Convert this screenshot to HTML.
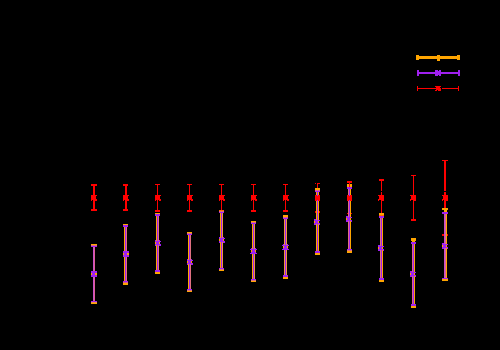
<!DOCTYPE html>
<html><head><meta charset="utf-8"><title>plot</title>
<style>
html,body{margin:0;padding:0;background:#000;font-family:"Liberation Sans",sans-serif;}
svg{display:block;position:absolute;left:0;top:0;}
</style></head><body>
<svg width="500" height="350" viewBox="0 0 500 350" shape-rendering="crispEdges">
<rect x="0" y="0" width="500" height="350" fill="#000"/>
<rect x="93" y="184" width="1" height="27" fill="#ff0000"/><rect x="94" y="184" width="1" height="27" fill="#ff0000"/><rect x="91" y="184" width="6" height="1" fill="#ff0000"/><rect x="91" y="185" width="6" height="1" fill="#ff0000"/><rect x="91" y="209" width="6" height="1" fill="#ff0000"/><rect x="91" y="210" width="6" height="1" fill="#ff0000"/><rect x="125" y="184" width="1" height="27" fill="#ff0000"/><rect x="126" y="184" width="1" height="27" fill="#ff0000"/><rect x="123" y="184" width="5" height="1" fill="#ff0000"/><rect x="123" y="185" width="5" height="1" fill="#ff0000"/><rect x="123" y="209" width="5" height="1" fill="#ff0000"/><rect x="123" y="210" width="5" height="1" fill="#ff0000"/><rect x="157" y="184" width="1" height="28" fill="#ff0000"/><rect x="155" y="184" width="5" height="1" fill="#ff0000"/><rect x="155" y="210" width="5" height="1" fill="#ff0000"/><rect x="155" y="211" width="5" height="1" fill="#ff0000"/><rect x="189" y="184" width="1" height="28" fill="#ff0000"/><rect x="187" y="184" width="5" height="1" fill="#ff0000"/><rect x="187" y="210" width="5" height="1" fill="#ff0000"/><rect x="187" y="211" width="5" height="1" fill="#ff0000"/><rect x="221" y="184" width="1" height="28" fill="#ff0000"/><rect x="219" y="184" width="5" height="1" fill="#ff0000"/><rect x="219" y="210" width="5" height="1" fill="#ff0000"/><rect x="219" y="211" width="5" height="1" fill="#ff0000"/><rect x="253" y="184" width="1" height="28" fill="#ff0000"/><rect x="251" y="184" width="5" height="1" fill="#ff0000"/><rect x="251" y="210" width="5" height="1" fill="#ff0000"/><rect x="251" y="211" width="5" height="1" fill="#ff0000"/><rect x="285" y="184" width="1" height="28" fill="#ff0000"/><rect x="283" y="184" width="5" height="1" fill="#ff0000"/><rect x="283" y="210" width="5" height="1" fill="#ff0000"/><rect x="283" y="211" width="5" height="1" fill="#ff0000"/><rect x="317" y="183" width="1" height="30" fill="#ff0000"/><rect x="315" y="183" width="5" height="1" fill="#ff0000"/><rect x="315" y="211" width="5" height="1" fill="#ff0000"/><rect x="315" y="212" width="5" height="1" fill="#ff0000"/><rect x="349" y="181" width="1" height="33" fill="#ff0000"/><rect x="347" y="181" width="5" height="1" fill="#ff0000"/><rect x="347" y="182" width="5" height="1" fill="#ff0000"/><rect x="347" y="213" width="5" height="1" fill="#ff0000"/><rect x="381" y="179" width="1" height="37" fill="#ff0000"/><rect x="379" y="179" width="5" height="1" fill="#ff0000"/><rect x="379" y="180" width="5" height="1" fill="#ff0000"/><rect x="379" y="215" width="5" height="1" fill="#ff0000"/><rect x="413" y="175" width="1" height="46" fill="#ff0000"/><rect x="411" y="175" width="5" height="1" fill="#ff0000"/><rect x="411" y="219" width="5" height="1" fill="#ff0000"/><rect x="411" y="220" width="5" height="1" fill="#ff0000"/><rect x="444" y="160" width="1" height="76" fill="#ff0000"/><rect x="445" y="160" width="1" height="76" fill="#ff0000"/><rect x="442" y="160" width="6" height="1" fill="#ff0000"/><rect x="442" y="234" width="6" height="1" fill="#ff0000"/><rect x="442" y="235" width="6" height="1" fill="#ff0000"/><rect x="93" y="244" width="1" height="60" fill="#c850c8"/><rect x="94" y="244" width="1" height="60" fill="#dc5f96"/><rect x="91" y="244" width="6" height="1" fill="#ffa500"/><rect x="91" y="245" width="6" height="1" fill="#e07080"/><rect x="91" y="246" width="6" height="1" fill="#a020f0"/><rect x="91" y="301" width="6" height="1" fill="#a020f0"/><rect x="91" y="302" width="6" height="1" fill="#f09640"/><rect x="91" y="303" width="6" height="1" fill="#ffa500"/><rect x="91" y="273" width="6" height="2" fill="#ffa500"/><rect x="91" y="271" width="6" height="2" fill="#a020f0"/><rect x="91" y="275" width="6" height="2" fill="#a020f0"/><rect x="92" y="273" width="3" height="2" fill="#a020f0"/><rect x="124" y="224" width="1" height="61" fill="#ffa500"/><rect x="125" y="224" width="1" height="61" fill="#a020f0"/><rect x="126" y="224" width="1" height="61" fill="#e07080"/><rect x="123" y="224" width="5" height="1" fill="#ffa500"/><rect x="123" y="225" width="5" height="1" fill="#a020f0"/><rect x="123" y="226" width="5" height="1" fill="#a020f0"/><rect x="123" y="281" width="5" height="1" fill="#a020f0"/><rect x="123" y="282" width="5" height="1" fill="#dc5f96"/><rect x="123" y="283" width="5" height="1" fill="#ffa500"/><rect x="123" y="284" width="5" height="1" fill="#ffa500"/><rect x="123" y="253" width="6" height="2" fill="#ffa500"/><rect x="123" y="251" width="6" height="2" fill="#a020f0"/><rect x="123" y="255" width="6" height="2" fill="#a020f0"/><rect x="124" y="253" width="3" height="2" fill="#a020f0"/><rect x="156" y="213" width="1" height="61" fill="#ffa500"/><rect x="157" y="213" width="1" height="61" fill="#a020f0"/><rect x="158" y="213" width="1" height="61" fill="#e07080"/><rect x="155" y="213" width="5" height="1" fill="#ffa500"/><rect x="155" y="214" width="5" height="1" fill="#a020f0"/><rect x="155" y="215" width="5" height="1" fill="#a020f0"/><rect x="155" y="270" width="5" height="1" fill="#a020f0"/><rect x="155" y="271" width="5" height="1" fill="#a020f0"/><rect x="155" y="272" width="5" height="1" fill="#ffa500"/><rect x="155" y="273" width="5" height="1" fill="#ffa500"/><rect x="155" y="242" width="5" height="2" fill="#ffa500"/><rect x="155" y="240" width="5" height="1" fill="#a020f0"/><rect x="155" y="241" width="6" height="1" fill="#a020f0"/><rect x="155" y="244" width="6" height="1" fill="#a020f0"/><rect x="155" y="245" width="6" height="1" fill="#a020f0"/><rect x="156" y="242" width="3" height="2" fill="#a020f0"/><rect x="156" y="240" width="1" height="1" fill="#ffa500"/><rect x="156" y="245" width="1" height="1" fill="#ffa500"/><rect x="158" y="240" width="1" height="1" fill="#e07080"/><rect x="158" y="245" width="1" height="1" fill="#e07080"/><rect x="188" y="232" width="1" height="60" fill="#ffa500"/><rect x="189" y="232" width="1" height="60" fill="#a020f0"/><rect x="190" y="232" width="1" height="60" fill="#e07080"/><rect x="187" y="232" width="5" height="1" fill="#ffa500"/><rect x="187" y="233" width="5" height="1" fill="#e07080"/><rect x="187" y="234" width="5" height="1" fill="#a020f0"/><rect x="187" y="289" width="5" height="1" fill="#a020f0"/><rect x="187" y="290" width="5" height="1" fill="#e07080"/><rect x="187" y="291" width="5" height="1" fill="#ffa500"/><rect x="187" y="261" width="5" height="2" fill="#ffa500"/><rect x="187" y="259" width="5" height="1" fill="#a020f0"/><rect x="187" y="260" width="6" height="1" fill="#a020f0"/><rect x="187" y="263" width="6" height="1" fill="#a020f0"/><rect x="187" y="264" width="6" height="1" fill="#a020f0"/><rect x="188" y="261" width="3" height="2" fill="#a020f0"/><rect x="188" y="259" width="1" height="1" fill="#ffa500"/><rect x="188" y="264" width="1" height="1" fill="#ffa500"/><rect x="190" y="259" width="1" height="1" fill="#e07080"/><rect x="190" y="264" width="1" height="1" fill="#e07080"/><rect x="220" y="210" width="1" height="61" fill="#ffa500"/><rect x="221" y="210" width="1" height="61" fill="#a020f0"/><rect x="222" y="210" width="1" height="61" fill="#f09640"/><rect x="219" y="210" width="5" height="1" fill="#ff6a00"/><rect x="219" y="211" width="5" height="1" fill="#e07080"/><rect x="219" y="212" width="5" height="1" fill="#a020f0"/><rect x="219" y="268" width="5" height="1" fill="#a020f0"/><rect x="219" y="269" width="5" height="1" fill="#e07080"/><rect x="219" y="270" width="5" height="1" fill="#ffa500"/><rect x="219" y="239" width="5" height="2" fill="#ffa500"/><rect x="219" y="237" width="5" height="1" fill="#a020f0"/><rect x="219" y="238" width="6" height="1" fill="#a020f0"/><rect x="219" y="241" width="6" height="1" fill="#a020f0"/><rect x="219" y="242" width="6" height="1" fill="#a020f0"/><rect x="220" y="239" width="3" height="2" fill="#a020f0"/><rect x="220" y="237" width="1" height="1" fill="#ffa500"/><rect x="220" y="242" width="1" height="1" fill="#ffa500"/><rect x="222" y="237" width="1" height="1" fill="#f09640"/><rect x="222" y="242" width="1" height="1" fill="#f09640"/><rect x="252" y="221" width="1" height="61" fill="#ffa500"/><rect x="253" y="221" width="1" height="61" fill="#a020f0"/><rect x="254" y="221" width="1" height="61" fill="#f09640"/><rect x="251" y="221" width="5" height="1" fill="#ffa500"/><rect x="251" y="222" width="5" height="1" fill="#e07080"/><rect x="251" y="223" width="5" height="1" fill="#a020f0"/><rect x="251" y="279" width="5" height="1" fill="#a020f0"/><rect x="251" y="280" width="5" height="1" fill="#e07080"/><rect x="251" y="281" width="5" height="1" fill="#ffa500"/><rect x="251" y="250" width="5" height="2" fill="#ffa500"/><rect x="251" y="248" width="1" height="1" fill="#a020f0"/><rect x="255" y="248" width="1" height="1" fill="#a020f0"/><rect x="250" y="249" width="7" height="1" fill="#a020f0"/><rect x="250" y="253" width="7" height="1" fill="#a020f0"/><rect x="252" y="250" width="3" height="2" fill="#a020f0"/><rect x="251" y="252" width="5" height="1" fill="#a020f0"/><rect x="253" y="248" width="1" height="1" fill="#a020f0"/><rect x="284" y="215" width="1" height="64" fill="#f09640"/><rect x="285" y="215" width="1" height="64" fill="#a020f0"/><rect x="286" y="215" width="1" height="64" fill="#f09640"/><rect x="283" y="215" width="5" height="1" fill="#ffa500"/><rect x="283" y="216" width="5" height="1" fill="#ffa500"/><rect x="283" y="217" width="5" height="1" fill="#dc5f96"/><rect x="283" y="218" width="5" height="1" fill="#a020f0"/><rect x="283" y="275" width="5" height="1" fill="#a020f0"/><rect x="283" y="276" width="5" height="1" fill="#a020f0"/><rect x="283" y="277" width="5" height="1" fill="#ffa500"/><rect x="283" y="278" width="5" height="1" fill="#ffa500"/><rect x="283" y="246" width="5" height="2" fill="#ffa500"/><rect x="283" y="244" width="1" height="1" fill="#a020f0"/><rect x="287" y="244" width="1" height="1" fill="#a020f0"/><rect x="282" y="245" width="7" height="1" fill="#a020f0"/><rect x="282" y="249" width="7" height="1" fill="#a020f0"/><rect x="284" y="246" width="3" height="2" fill="#a020f0"/><rect x="283" y="248" width="5" height="1" fill="#a020f0"/><rect x="285" y="244" width="1" height="1" fill="#a020f0"/><rect x="316" y="188" width="1" height="67" fill="#ffa500"/><rect x="317" y="188" width="1" height="67" fill="#a020f0"/><rect x="318" y="188" width="1" height="67" fill="#ffa500"/><rect x="315" y="188" width="5" height="1" fill="#ffa500"/><rect x="315" y="189" width="5" height="1" fill="#ffa500"/><rect x="315" y="190" width="5" height="1" fill="#dc5f96"/><rect x="315" y="191" width="5" height="1" fill="#a020f0"/><rect x="315" y="251" width="5" height="1" fill="#a020f0"/><rect x="315" y="252" width="5" height="1" fill="#a020f0"/><rect x="315" y="253" width="5" height="1" fill="#ffa500"/><rect x="315" y="254" width="5" height="1" fill="#ffa500"/><rect x="314" y="221" width="5" height="2" fill="#ffa500"/><rect x="314" y="219" width="5" height="1" fill="#a020f0"/><rect x="314" y="220" width="6" height="1" fill="#a020f0"/><rect x="314" y="223" width="6" height="1" fill="#a020f0"/><rect x="314" y="224" width="6" height="1" fill="#a020f0"/><rect x="315" y="221" width="3" height="2" fill="#a020f0"/><rect x="316" y="219" width="1" height="1" fill="#ffa500"/><rect x="316" y="224" width="1" height="1" fill="#ffa500"/><rect x="318" y="219" width="1" height="1" fill="#ffa500"/><rect x="318" y="224" width="1" height="1" fill="#ffa500"/><rect x="348" y="184" width="1" height="69" fill="#e07080"/><rect x="349" y="184" width="1" height="69" fill="#a020f0"/><rect x="350" y="184" width="1" height="69" fill="#ffa500"/><rect x="347" y="184" width="5" height="1" fill="#ffa500"/><rect x="347" y="185" width="5" height="1" fill="#ffa500"/><rect x="347" y="186" width="5" height="1" fill="#ffa500"/><rect x="347" y="187" width="5" height="1" fill="#a020f0"/><rect x="347" y="188" width="5" height="1" fill="#a020f0"/><rect x="347" y="249" width="5" height="1" fill="#a020f0"/><rect x="347" y="250" width="5" height="1" fill="#e07080"/><rect x="347" y="251" width="5" height="1" fill="#ffa500"/><rect x="347" y="252" width="5" height="1" fill="#ffa500"/><rect x="346" y="218" width="5" height="2" fill="#ffa500"/><rect x="346" y="216" width="5" height="1" fill="#a020f0"/><rect x="346" y="217" width="6" height="1" fill="#a020f0"/><rect x="346" y="220" width="6" height="1" fill="#a020f0"/><rect x="346" y="221" width="6" height="1" fill="#a020f0"/><rect x="347" y="218" width="3" height="2" fill="#a020f0"/><rect x="348" y="216" width="1" height="1" fill="#e07080"/><rect x="348" y="221" width="1" height="1" fill="#e07080"/><rect x="350" y="216" width="1" height="1" fill="#ffa500"/><rect x="350" y="221" width="1" height="1" fill="#ffa500"/><rect x="380" y="213" width="1" height="69" fill="#e07080"/><rect x="381" y="213" width="1" height="69" fill="#a020f0"/><rect x="382" y="213" width="1" height="69" fill="#ffa500"/><rect x="379" y="213" width="5" height="1" fill="#ffa500"/><rect x="379" y="214" width="5" height="1" fill="#ffa500"/><rect x="379" y="215" width="5" height="1" fill="#ff6a00"/><rect x="379" y="216" width="5" height="1" fill="#a020f0"/><rect x="379" y="217" width="5" height="1" fill="#a020f0"/><rect x="379" y="278" width="5" height="1" fill="#a020f0"/><rect x="379" y="279" width="5" height="1" fill="#a020f0"/><rect x="379" y="280" width="5" height="1" fill="#ffa500"/><rect x="379" y="281" width="5" height="1" fill="#ffa500"/><rect x="378" y="247" width="5" height="2" fill="#ffa500"/><rect x="378" y="245" width="5" height="1" fill="#a020f0"/><rect x="378" y="246" width="6" height="1" fill="#a020f0"/><rect x="378" y="249" width="6" height="1" fill="#a020f0"/><rect x="378" y="250" width="6" height="1" fill="#a020f0"/><rect x="379" y="247" width="3" height="2" fill="#a020f0"/><rect x="380" y="245" width="1" height="1" fill="#e07080"/><rect x="380" y="250" width="1" height="1" fill="#e07080"/><rect x="382" y="245" width="1" height="1" fill="#ffa500"/><rect x="382" y="250" width="1" height="1" fill="#ffa500"/><rect x="412" y="238" width="1" height="70" fill="#dc5f96"/><rect x="413" y="238" width="1" height="70" fill="#a020f0"/><rect x="414" y="238" width="1" height="70" fill="#ffa500"/><rect x="411" y="238" width="5" height="1" fill="#ffa500"/><rect x="411" y="239" width="5" height="1" fill="#ffa500"/><rect x="411" y="240" width="5" height="1" fill="#ffa500"/><rect x="411" y="242" width="5" height="1" fill="#a020f0"/><rect x="411" y="243" width="5" height="1" fill="#a020f0"/><rect x="411" y="304" width="5" height="1" fill="#a020f0"/><rect x="411" y="305" width="5" height="1" fill="#a020f0"/><rect x="411" y="306" width="5" height="1" fill="#ffa500"/><rect x="411" y="307" width="5" height="1" fill="#ffa500"/><rect x="410" y="273" width="5" height="2" fill="#ffa500"/><rect x="410" y="271" width="5" height="1" fill="#a020f0"/><rect x="410" y="272" width="6" height="1" fill="#a020f0"/><rect x="410" y="275" width="6" height="1" fill="#a020f0"/><rect x="410" y="276" width="6" height="1" fill="#a020f0"/><rect x="411" y="273" width="3" height="2" fill="#a020f0"/><rect x="412" y="271" width="1" height="1" fill="#dc5f96"/><rect x="412" y="276" width="1" height="1" fill="#dc5f96"/><rect x="414" y="271" width="1" height="1" fill="#ffa500"/><rect x="414" y="276" width="1" height="1" fill="#ffa500"/><rect x="444" y="208" width="1" height="73" fill="#c850c8"/><rect x="445" y="208" width="1" height="73" fill="#dc5f96"/><rect x="446" y="208" width="1" height="73" fill="#ffa500"/><rect x="442" y="208" width="6" height="1" fill="#ffa500"/><rect x="442" y="209" width="6" height="1" fill="#ffa500"/><rect x="442" y="212" width="6" height="1" fill="#a020f0"/><rect x="442" y="213" width="6" height="1" fill="#a020f0"/><rect x="442" y="278" width="6" height="1" fill="#a020f0"/><rect x="442" y="279" width="6" height="1" fill="#ffa500"/><rect x="442" y="280" width="6" height="1" fill="#ffa500"/><rect x="442" y="245" width="5" height="2" fill="#ffa500"/><rect x="442" y="243" width="5" height="1" fill="#a020f0"/><rect x="442" y="244" width="6" height="1" fill="#a020f0"/><rect x="442" y="247" width="6" height="1" fill="#a020f0"/><rect x="442" y="248" width="6" height="1" fill="#a020f0"/><rect x="443" y="245" width="3" height="2" fill="#a020f0"/><rect x="444" y="243" width="1" height="1" fill="#c850c8"/><rect x="444" y="248" width="1" height="1" fill="#c850c8"/><rect x="445" y="243" width="1" height="1" fill="#dc5f96"/><rect x="445" y="248" width="1" height="1" fill="#dc5f96"/><rect x="446" y="243" width="1" height="1" fill="#ffa500"/><rect x="446" y="248" width="1" height="1" fill="#ffa500"/><rect x="444" y="210" width="3" height="2" fill="#ffa500"/><rect x="412" y="241" width="3" height="1" fill="#ffa500"/><rect x="91" y="195" width="6" height="1" fill="#ff0000"/><rect x="91" y="196" width="5" height="3" fill="#ff0000"/><rect x="91" y="199" width="6" height="1" fill="#ff0000"/><rect x="91" y="200" width="1" height="1" fill="#ff0000"/><rect x="93" y="200" width="2" height="1" fill="#ff0000"/><rect x="95" y="200" width="2" height="1" fill="#ff0000"/><rect x="123" y="195" width="6" height="1" fill="#ff0000"/><rect x="123" y="196" width="5" height="3" fill="#ff0000"/><rect x="123" y="199" width="6" height="1" fill="#ff0000"/><rect x="123" y="200" width="1" height="1" fill="#ff0000"/><rect x="125" y="200" width="2" height="1" fill="#ff0000"/><rect x="127" y="200" width="2" height="1" fill="#ff0000"/><rect x="155" y="195" width="6" height="1" fill="#ff0000"/><rect x="155" y="196" width="5" height="3" fill="#ff0000"/><rect x="155" y="199" width="6" height="1" fill="#ff0000"/><rect x="155" y="200" width="1" height="1" fill="#ff0000"/><rect x="157" y="200" width="1" height="1" fill="#ff0000"/><rect x="159" y="200" width="2" height="1" fill="#ff0000"/><rect x="187" y="195" width="6" height="1" fill="#ff0000"/><rect x="187" y="196" width="5" height="3" fill="#ff0000"/><rect x="187" y="199" width="6" height="1" fill="#ff0000"/><rect x="187" y="200" width="1" height="1" fill="#ff0000"/><rect x="189" y="200" width="1" height="1" fill="#ff0000"/><rect x="191" y="200" width="2" height="1" fill="#ff0000"/><rect x="219" y="195" width="6" height="1" fill="#ff0000"/><rect x="219" y="196" width="5" height="3" fill="#ff0000"/><rect x="219" y="199" width="6" height="1" fill="#ff0000"/><rect x="219" y="200" width="1" height="1" fill="#ff0000"/><rect x="221" y="200" width="1" height="1" fill="#ff0000"/><rect x="223" y="200" width="2" height="1" fill="#ff0000"/><rect x="251" y="195" width="6" height="1" fill="#ff0000"/><rect x="251" y="196" width="5" height="3" fill="#ff0000"/><rect x="251" y="199" width="6" height="1" fill="#ff0000"/><rect x="251" y="200" width="1" height="1" fill="#ff0000"/><rect x="253" y="200" width="1" height="1" fill="#ff0000"/><rect x="255" y="200" width="2" height="1" fill="#ff0000"/><rect x="283" y="195" width="6" height="1" fill="#ff0000"/><rect x="283" y="196" width="5" height="3" fill="#ff0000"/><rect x="283" y="199" width="6" height="1" fill="#ff0000"/><rect x="283" y="200" width="1" height="1" fill="#ff0000"/><rect x="285" y="200" width="1" height="1" fill="#ff0000"/><rect x="287" y="200" width="2" height="1" fill="#ff0000"/><rect x="315" y="196" width="5" height="4" fill="#ff0000"/><rect x="315" y="195" width="2" height="1" fill="#ff0000"/><rect x="318" y="195" width="2" height="1" fill="#ff0000"/><rect x="315" y="200" width="2" height="1" fill="#ff0000"/><rect x="318" y="200" width="2" height="1" fill="#ff0000"/><rect x="347" y="196" width="5" height="4" fill="#ff0000"/><rect x="347" y="195" width="2" height="1" fill="#ff0000"/><rect x="350" y="195" width="2" height="1" fill="#ff0000"/><rect x="347" y="200" width="2" height="1" fill="#ff0000"/><rect x="350" y="200" width="2" height="1" fill="#ff0000"/><rect x="378" y="195" width="6" height="1" fill="#ff0000"/><rect x="379" y="196" width="5" height="3" fill="#ff0000"/><rect x="378" y="199" width="6" height="1" fill="#ff0000"/><rect x="378" y="200" width="1" height="1" fill="#ff0000"/><rect x="381" y="200" width="1" height="1" fill="#ff0000"/><rect x="382" y="200" width="2" height="1" fill="#ff0000"/><rect x="410" y="195" width="6" height="1" fill="#ff0000"/><rect x="411" y="196" width="5" height="3" fill="#ff0000"/><rect x="410" y="199" width="6" height="1" fill="#ff0000"/><rect x="410" y="200" width="1" height="1" fill="#ff0000"/><rect x="413" y="200" width="1" height="1" fill="#ff0000"/><rect x="414" y="200" width="2" height="1" fill="#ff0000"/><rect x="442" y="195" width="6" height="1" fill="#ff0000"/><rect x="443" y="196" width="5" height="3" fill="#ff0000"/><rect x="442" y="199" width="6" height="1" fill="#ff0000"/><rect x="442" y="200" width="1" height="1" fill="#ff0000"/><rect x="444" y="200" width="2" height="1" fill="#ff0000"/><rect x="446" y="200" width="2" height="1" fill="#ff0000"/><rect x="381" y="191" width="1" height="1" fill="#000"/><rect x="444" y="191" width="2" height="1" fill="#000"/><rect x="349" y="183" width="1" height="4" fill="#ff0000"/><rect x="315" y="211" width="1" height="2" fill="#ff0000"/><rect x="319" y="211" width="1" height="2" fill="#ff0000"/><rect x="316" y="183" width="1" height="1" fill="#000"/><rect x="347" y="213" width="1" height="1" fill="#ff0000"/><rect x="351" y="213" width="1" height="1" fill="#ff0000"/><rect x="442" y="234" width="2" height="2" fill="#ff0000"/><rect x="447" y="234" width="1" height="2" fill="#ff0000"/><rect x="416" y="56" width="44" height="3" fill="#ffa500"/><rect x="416" y="55" width="3" height="5" fill="#ffa500"/><rect x="457" y="55" width="3" height="5" fill="#ffa500"/><rect x="437" y="55" width="3" height="6" fill="#ffa500"/><rect x="417" y="72" width="43" height="2" fill="#a020f0"/><rect x="417" y="70" width="2" height="6" fill="#a020f0"/><rect x="458" y="70" width="2" height="6" fill="#a020f0"/><rect x="435" y="70" width="6" height="6" fill="#a020f0"/><rect x="438" y="70" width="1" height="1" fill="#000"/><rect x="438" y="75" width="1" height="1" fill="#000"/><rect x="417" y="88" width="24" height="1" fill="#ff0000"/><rect x="442" y="88" width="17" height="1" fill="#ff0000"/><rect x="417" y="86" width="1" height="5" fill="#ff0000"/><rect x="458" y="86" width="1" height="5" fill="#ff0000"/><rect x="435" y="86" width="6" height="1" fill="#ff0000"/><rect x="436" y="87" width="4" height="1" fill="#ff0000"/><rect x="436" y="89" width="5" height="1" fill="#ff0000"/><rect x="435" y="90" width="2" height="1" fill="#ff0000"/><rect x="438" y="90" width="3" height="1" fill="#ff0000"/><rect x="436" y="88" width="5" height="1" fill="#ff0000"/>
</svg>
</body></html>
